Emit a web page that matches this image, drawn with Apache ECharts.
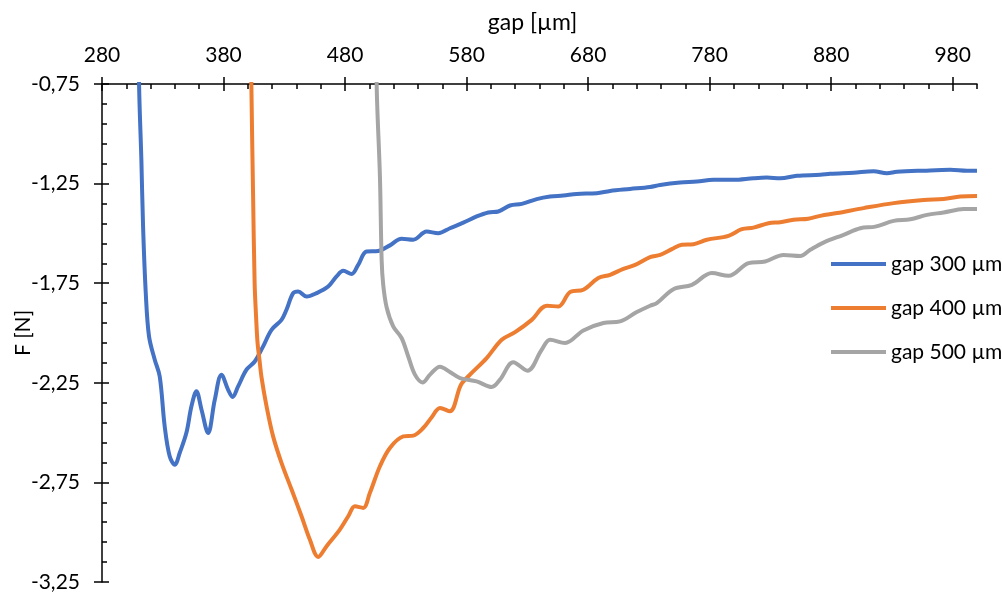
<!DOCTYPE html>
<html>
<head>
<meta charset="utf-8">
<script src="https://cdn.jsdelivr.net/npm/echarts@6.0.0/dist/echarts.min.js"></script>
<style>
  html, body { margin: 0; padding: 0; background: #fff; }
  #chart { width: 1002px; height: 592px; }
</style>
</head>
<body>
<div id="chart"></div>
<script>
// ---- data ----
const xTickLabels = [280, 380, 480, 580, 680, 780, 880, 980];
const seriesNames = ['gap 300 µm', 'gap 400 µm', 'gap 500 µm'];

const gap300X = [310.3, 310.5, 312.4, 313.8, 316.0, 318.7, 323.4, 327.5, 331.6, 335.7, 339.9, 344.0, 349.5, 353.6, 357.7, 361.9, 367.3, 372.8, 378.3, 383.8, 387.4, 392.0, 398.9, 405.7, 412.6, 419.5, 427.7, 431.8, 437.3, 441.4, 448.3, 456.6, 466.1, 473.0, 478.5, 485.4, 490.8, 497.7, 507.3, 516.9, 526.5, 536.1, 547.1, 556.7, 566.3, 577.3, 588.3, 597.9, 606.1, 615.7, 625.4, 637.7, 648.7, 659.6, 670.6, 687.1, 698.1, 714.5, 731.0, 739.2, 755.7, 769.5, 783.1, 799.6, 816.1, 827.1, 838.1, 851.8, 871.0, 879.2, 898.4, 914.9, 925.9, 934.1, 956.1, 978.0, 991.8, 1000];
const gap300F = [-0.55, -0.75, -1.131, -1.466, -1.798, -2.017, -2.134, -2.218, -2.469, -2.619, -2.661, -2.601, -2.500, -2.368, -2.293, -2.385, -2.502, -2.335, -2.209, -2.285, -2.321, -2.268, -2.184, -2.143, -2.067, -1.984, -1.934, -1.883, -1.800, -1.792, -1.817, -1.800, -1.767, -1.716, -1.688, -1.704, -1.658, -1.591, -1.588, -1.560, -1.527, -1.532, -1.491, -1.499, -1.474, -1.446, -1.415, -1.395, -1.390, -1.360, -1.352, -1.328, -1.315, -1.310, -1.302, -1.298, -1.287, -1.277, -1.267, -1.257, -1.245, -1.240, -1.231, -1.231, -1.223, -1.220, -1.223, -1.211, -1.206, -1.201, -1.195, -1.188, -1.198, -1.191, -1.185, -1.181, -1.186, -1.185];

const gap400X = [402.7, 402.9, 404.3, 405.6, 406.8, 408.0, 409.5, 411.3, 415.4, 420.8, 427.7, 436.0, 444.2, 451.0, 457.9, 464.8, 475.7, 482.6, 488.1, 494.9, 500.4, 508.7, 516.9, 527.9, 536.1, 544.3, 551.3, 558.1, 566.3, 575.4, 582.8, 596.5, 608.9, 619.9, 633.6, 646.0, 655.5, 665.1, 676.1, 688.4, 698.1, 709.0, 718.7, 731.0, 739.3, 748.9, 757.1, 766.7, 777.7, 795.5, 806.5, 816.1, 828.4, 838.1, 849.0, 861.1, 871.0, 884.8, 906.7, 931.4, 956.1, 972.5, 986.3, 1000];
const gap400F = [-0.55, -0.75, -1.298, -1.75, -1.92, -2.05, -2.13, -2.224, -2.368, -2.519, -2.652, -2.786, -2.920, -3.037, -3.124, -3.070, -2.987, -2.920, -2.870, -2.878, -2.803, -2.669, -2.577, -2.519, -2.515, -2.477, -2.423, -2.376, -2.393, -2.260, -2.209, -2.126, -2.034, -1.996, -1.934, -1.863, -1.867, -1.795, -1.783, -1.724, -1.708, -1.678, -1.658, -1.619, -1.608, -1.579, -1.557, -1.554, -1.532, -1.512, -1.479, -1.471, -1.449, -1.444, -1.432, -1.426, -1.412, -1.398, -1.373, -1.348, -1.332, -1.327, -1.315, -1.312];

const gap500X = [505.8, 506.0, 508.7, 510.1, 511.4, 514.2, 519.6, 526.5, 532.0, 537.5, 543.8, 549.9, 558.1, 566.3, 574.6, 588.3, 600.7, 607.5, 618.4, 630.1, 641.8, 648.7, 661.0, 676.1, 692.6, 706.3, 720.1, 731.0, 736.5, 750.2, 765.4, 781.8, 795.5, 812.0, 825.7, 840.8, 854.5, 862.8, 873.7, 890.2, 904.0, 916.3, 931.4, 945.1, 958.9, 972.5, 989.0, 1000];
const gap500F = [-0.55, -0.75, -1.215, -1.633, -1.758, -1.871, -1.967, -2.025, -2.118, -2.209, -2.248, -2.209, -2.169, -2.196, -2.226, -2.243, -2.271, -2.234, -2.147, -2.189, -2.084, -2.034, -2.050, -1.987, -1.950, -1.942, -1.895, -1.863, -1.850, -1.780, -1.758, -1.699, -1.713, -1.649, -1.641, -1.608, -1.613, -1.582, -1.546, -1.507, -1.474, -1.466, -1.437, -1.429, -1.407, -1.395, -1.378, -1.377];

// ---- chart ----
const FONT = 'Lato';
const FS = 21;
const AX = '#000';
const COLORS = ['#4472C4', '#ED7D31', '#A5A5A5'];
const zip = (xs, ys) => xs.map((x, i) => [x, ys[i]]);

const baseX = { type: 'value', position: 'top', min: 280, max: 1000, gridIndex: 0, splitLine: { show: false } };
const baseY = { type: 'value', position: 'left', min: -3.25, max: -0.75, gridIndex: 0, splitLine: { show: false } };
const tickStyle = { color: AX, width: 1.5 };

const chart = echarts.init(document.getElementById('chart'), null, { renderer: 'canvas' });
chart.setOption({
  animation: false,
  backgroundColor: '#fff',
  grid: { left: 102, right: 25, top: 84, bottom: 10, containLabel: false, outerBoundsMode: 'none' },
  legend: {
    orient: 'vertical',
    left: 826,
    top: 247,
    icon: 'rect',
    itemWidth: 55,
    itemHeight: 4,
    itemGap: 20,
    data: seriesNames,
    textStyle: { fontFamily: FONT, fontSize: FS, color: '#000', lineHeight: 24 }
  },
  xAxis: [
    Object.assign({}, baseX, {
      interval: 100,
      name: 'gap [µm]',
      nameLocation: 'middle',
      nameGap: 50,
      nameTextStyle: { fontFamily: FONT, fontSize: 23, color: '#000', padding: [0, 14, 0, 0] },
      axisLine: { show: true, onZero: false, lineStyle: tickStyle },
      axisTick: { show: true, inside: false, length: 7, customValues: xTickLabels, lineStyle: tickStyle },
      axisLabel: { show: true, customValues: xTickLabels, margin: 18, fontFamily: FONT, fontSize: FS, color: '#000' }
    }),
    Object.assign({}, baseX, {
      interval: 100,
      axisLine: { show: false, onZero: false },
      axisTick: { show: true, inside: true, length: 7, customValues: xTickLabels, lineStyle: tickStyle },
      axisLabel: { show: false }
    }),
    Object.assign({}, baseX, {
      interval: 20,
      axisLine: { show: false, onZero: false },
      axisTick: { show: true, inside: true, length: 5, lineStyle: tickStyle },
      axisLabel: { show: false }
    })
  ],
  yAxis: [
    Object.assign({}, baseY, {
      interval: 0.5,
      name: 'F [N]',
      nameLocation: 'middle',
      nameGap: 68,
      nameMoveOverlap: false,
      nameTextStyle: { fontFamily: FONT, fontSize: FS, color: '#000' },
      axisLine: { show: true, onZero: false, lineStyle: tickStyle },
      axisTick: { show: true, inside: false, length: 8, lineStyle: tickStyle },
      axisLabel: {
        show: true, margin: 22, fontFamily: FONT, fontSize: FS, color: '#000',
        formatter: v => v.toFixed(2).replace('.', ',')
      }
    }),
    Object.assign({}, baseY, {
      interval: 0.5,
      axisLine: { show: false, onZero: false },
      axisTick: { show: true, inside: true, length: 7, lineStyle: tickStyle },
      axisLabel: { show: false }
    }),
    Object.assign({}, baseY, {
      interval: 0.1,
      axisLine: { show: false, onZero: false },
      axisTick: { show: true, inside: true, length: 5, lineStyle: tickStyle },
      axisLabel: { show: false }
    })
  ],
  series: [
    { name: seriesNames[0], type: 'line', xAxisIndex: 0, yAxisIndex: 0, data: zip(gap300X, gap300F), smooth: 0.35, symbol: 'none', clip: true, color: COLORS[0], lineStyle: { width: 4, color: COLORS[0] } },
    { name: seriesNames[1], type: 'line', xAxisIndex: 0, yAxisIndex: 0, data: zip(gap400X, gap400F), smooth: 0.35, symbol: 'none', clip: true, color: COLORS[1], lineStyle: { width: 4, color: COLORS[1] } },
    { name: seriesNames[2], type: 'line', xAxisIndex: 0, yAxisIndex: 0, data: zip(gap500X, gap500F), smooth: 0.35, symbol: 'none', clip: true, color: COLORS[2], lineStyle: { width: 4, color: COLORS[2] } }
  ]
});
</script>
</body>
</html>
